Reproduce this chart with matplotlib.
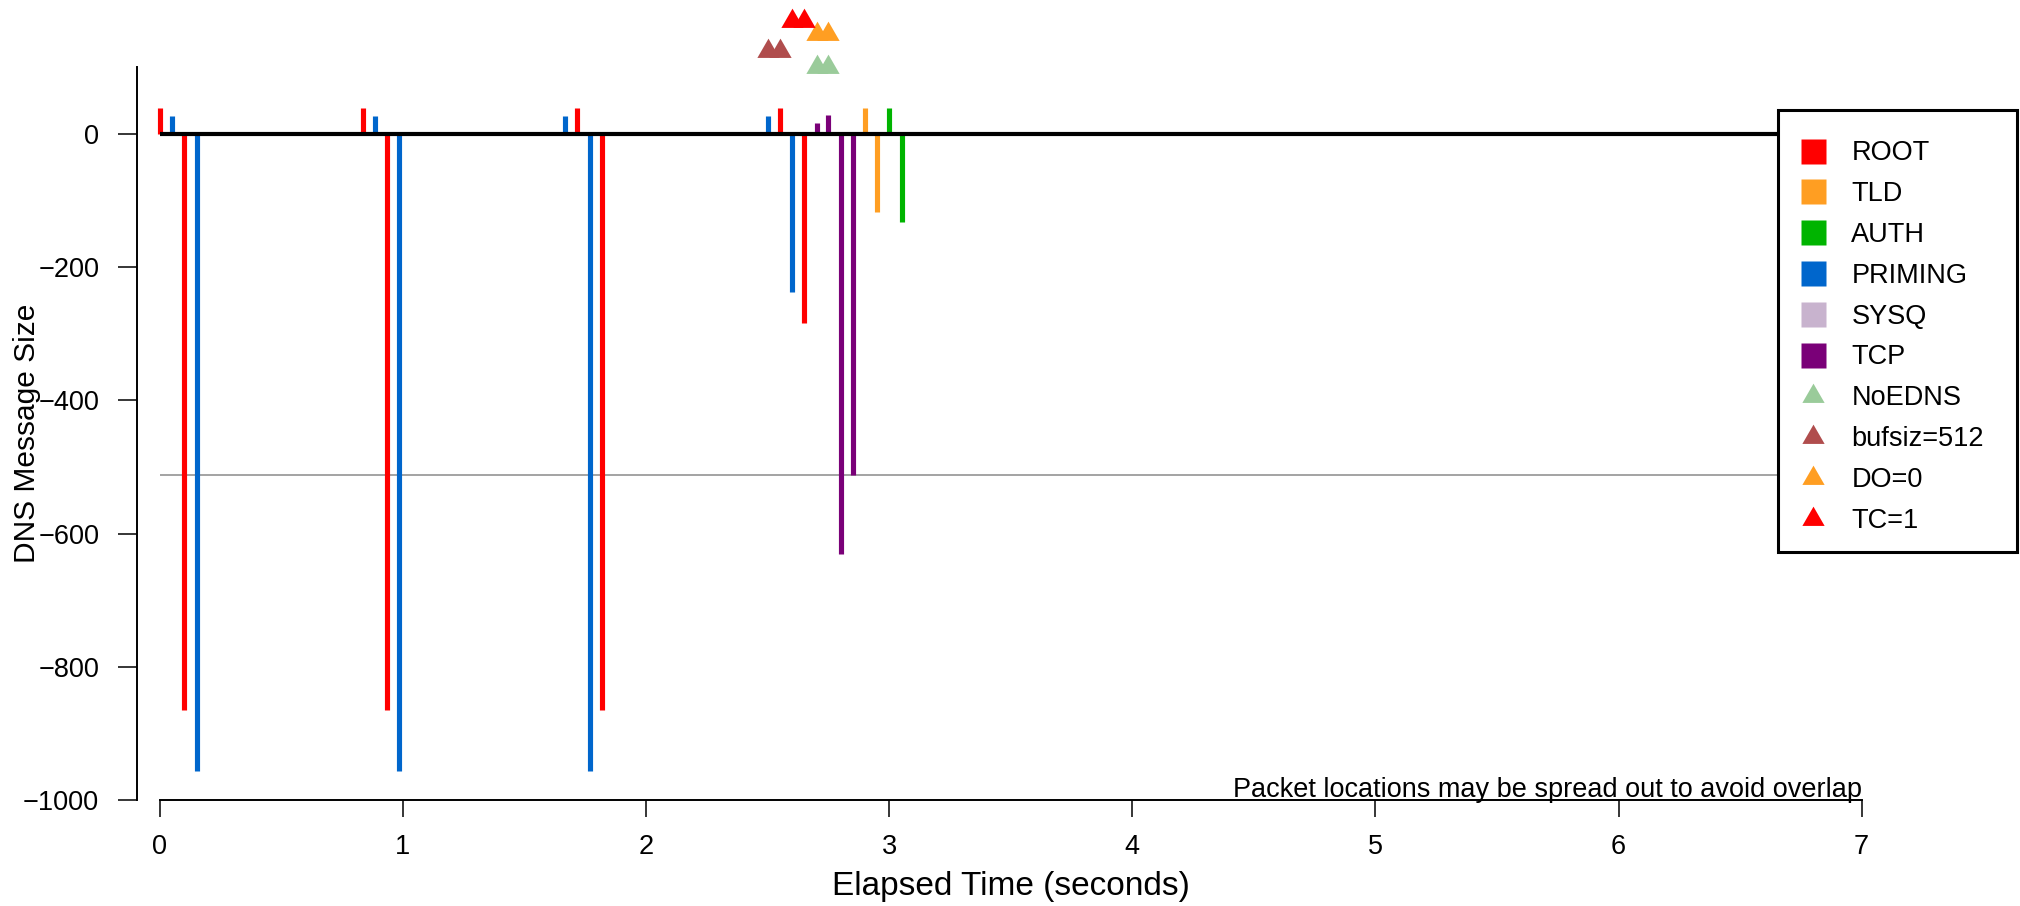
import numpy as np
import matplotlib.pyplot as plt
from matplotlib.lines import Line2D
from matplotlib.patches import Rectangle

plt.rcParams['font.family'] = ['Liberation Sans', 'DejaVu Sans']

# packet times (seconds) and DNS message sizes; queries point up, responses down
root_t = [0.000, 0.101, 0.835, 0.934, 1.717, 1.818, 2.552, 2.652]
root_size = [39, -865, 39, -865, 39, -865, 39, -284]
priming_t = [0.052, 0.152, 0.884, 0.984, 1.669, 1.769, 2.502, 2.602]
priming_size = [27, -956, 27, -956, 27, -956, 27, -238]
tld_t = [2.903, 2.952]
tld_size = [39, -117]
auth_t = [3.001, 3.052]
auth_size = [39, -133]
sysq_t = []
sysq_size = []
tcp_t = [2.702, 2.750, 2.803, 2.852]
tcp_size = [16, 28, -631, -512]

# flag markers above the packets
noedns_t = [2.702, 2.750]
noedns_y = [100, 100]
bufsiz_t = [2.502, 2.552]
bufsiz_y = [125, 125]
do0_t = [2.702, 2.750]
do0_y = [150, 150]
tc1_t = [2.602, 2.652]
tc1_y = [170, 170]

udp_limit = -512
x_ticks = [0, 1, 2, 3, 4, 5, 6, 7]
y_ticks = [0, -200, -400, -600, -800, -1000]

bar_labels = ['ROOT', 'TLD', 'AUTH', 'PRIMING', 'SYSQ', 'TCP']
bar_colors = ['#FF0000', '#FF9E22', '#00B400', '#0066CC', '#C8B3CE', '#7A0078']
flag_labels = ['NoEDNS', 'bufsiz=512', 'DO=0', 'TC=1']
flag_colors = ['#9ACB9A', '#B04D4D', '#FF9E22', '#FF0000']

W, H = 2020, 906
fig = plt.figure(figsize=(W / 100, H / 100), dpi=100)
ax = fig.add_axes([137 / W, 106 / H, 1873 / W, 800 / H])
xmin, xmax = -0.093, 7.61
ax.set_xlim(xmin, xmax)
ax.set_ylim(-1000, 201)

bars = [(root_t, root_size), (tld_t, tld_size), (auth_t, auth_size),
        (priming_t, priming_size), (sysq_t, sysq_size), (tcp_t, tcp_size)]
for (t, s), c in zip(bars, bar_colors):
    if len(t):
        ax.vlines(t, 0, s, colors=c, lw=3.7, capstyle='butt', zorder=2)

ax.hlines(0, 0, xmax, color='black', lw=3.0, zorder=3)
ax.hlines(udp_limit, 0, xmax, color='#8a8a8a', lw=1.1, zorder=1)

tri = (3, 0, 0)
flags = [(noedns_t, noedns_y), (bufsiz_t, bufsiz_y), (do0_t, do0_y), (tc1_t, tc1_y)]
for (t, y), c in zip(flags, flag_colors):
    ax.plot(t, y, ls='none', marker=tri, ms=18.5, color=c, mec='none',
            clip_on=False, zorder=4)

for side in ['top', 'right']:
    ax.spines[side].set_visible(False)
ax.spines['left'].set_bounds(-1000, 100)
ax.spines['bottom'].set_bounds(0, 7)
ax.spines['left'].set_linewidth(1.4)
ax.spines['bottom'].set_linewidth(1.4)

ax.set_xticks(x_ticks)
ax.set_yticks(y_ticks)
ax.tick_params(axis='x', length=12.2, width=1.1, pad=12.5, labelsize=19.5)
ax.tick_params(axis='y', length=13.7, width=1.1, pad=13.5, labelsize=19.5)

ax.set_xlabel('Elapsed Time (seconds)', fontsize=24)
ax.xaxis.set_label_coords((3.5 - xmin) / (xmax - xmin), -0.089)
ax.set_ylabel('DNS Message Size', fontsize=21.5)
ax.yaxis.set_label_coords((41 - 137) / 1873, (800 - 433) / 800)

ax.text(7, -996, 'Packet locations may be spread out to avoid overlap',
        ha='right', va='baseline', fontsize=19.5)

# legend with box
fig.add_artist(Rectangle((1778 / W, 1 - 552 / H), (2017 - 1778) / W, (552 - 110) / H,
                         transform=fig.transFigure, facecolor='white',
                         edgecolor='black', lw=2.2, zorder=4))
handles = [Line2D([], [], ls='none', marker='s', ms=18, color=c, mec='none')
           for c in bar_colors]
handles += [Line2D([], [], ls='none', marker=tri, ms=18.5, color=c, mec='none')
            for c in flag_colors]
fig.legend(handles, bar_labels + flag_labels, loc='upper left',
           bbox_to_anchor=(1788.6 / W, 1 - 140 / H), frameon=False,
           fontsize=19.5, handlelength=1.8, handletextpad=0.52,
           labelspacing=0.55, borderpad=0, borderaxespad=0)

fig.savefig('out.png', dpi=100)
